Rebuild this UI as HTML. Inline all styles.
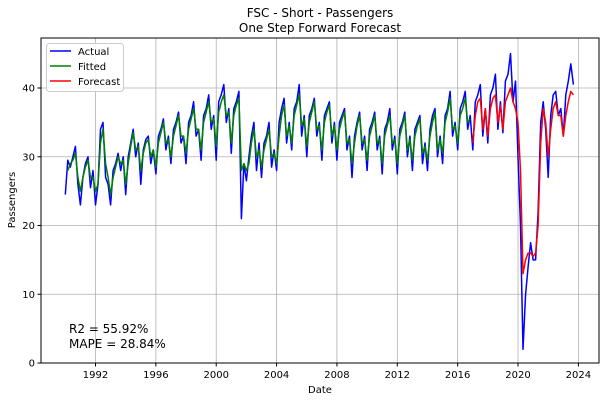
<!DOCTYPE html>
<html><head><meta charset="utf-8"><style>
body{margin:0;background:#fff;font-family:"DejaVu Sans","Liberation Sans",sans-serif}
svg text{font-family:"DejaVu Sans","Liberation Sans",sans-serif}
</style></head><body>
<svg id="chart" width="606" height="402" xmlns="http://www.w3.org/2000/svg">
<rect width="606" height="402" fill="#fff"/>
<g id="grid"></g>
<g id="series"></g>
<rect x="41" y="38" width="558" height="325" fill="none" stroke="#000" stroke-width="1"/>
<g id="ticks"></g>
<text x="320" y="17" text-anchor="middle" font-size="12">FSC - Short - Passengers</text>
<text x="320" y="32" text-anchor="middle" font-size="12">One Step Forward Forecast</text>
<text x="320" y="393" text-anchor="middle" font-size="10">Date</text>
<text x="15" y="200" text-anchor="middle" font-size="10" transform="rotate(-90 15 200)">Passengers</text>
<text x="69" y="333" font-size="12">R2 = 55.92%</text>
<text x="69" y="348" font-size="12">MAPE = 28.84%</text>
<g>
<rect x="46.5" y="43.5" width="77" height="48" rx="3" fill="#fff" fill-opacity="0.85" stroke="#ccc"/>
<line x1="50" y1="51" x2="71" y2="51" stroke="#0000ff" stroke-width="1.5"/>
<text x="78" y="55" font-size="10">Actual</text>
<line x1="50" y1="66" x2="71" y2="66" stroke="#008000" stroke-width="1.5"/>
<text x="78" y="70" font-size="10">Fitted</text>
<line x1="50" y1="81" x2="71" y2="81" stroke="#ff0000" stroke-width="1.5"/>
<text x="78" y="85" font-size="10">Forecast</text>
</g>
</svg>
<script>
const xTicks=[1992,1996,2000,2004,2008,2012,2016,2020,2024];
const yTicks=[0,10,20,30,40];
const actualStart=1990.0;
const actualValues=[
24.5,29.5,28.5,30,31.5,26,
23,27,29,30,25.5,28,
23,26,34,35,27,26,
23,28,29,30.5,28,30,
24.5,30,32,34,30,32,
26,31,32.5,33,29,31,
27.5,33,34,35.5,31,33,
29,34,35,36.5,32,33,
29,35,36,38,33,34,
29.5,36,37,39,34,36,
29.5,38,39,40.5,35,37,
30.5,37,38,39.5,21,29,
26.5,30,33,35,28,32,
27,32,33,35,28.5,31,
28,35,37,38.5,32,35,
31,37,38,40.5,33,36,
30,36,37,38.5,33,35,
29.5,36,37,38,32,35,
29.5,35,36,37,31,33,
27,33,35,36.5,31,33,
28,34,35,36.5,31,33,
27.5,34,35,37,31,33,
27.5,34,35,36.5,30,33,
28,34,35,36,29,32,
28,34,36,37,30,33,
29,36,37,39.5,33,35,
31,37,38,39.5,34,36,
31,38,39,40.5,33,37,
32,39,40,42,34,38,
33.5,41,42,45,38,41,
30,20,2,10,14,17.5,
15,15,22,35,38,34,
27,36,39,39.5,36,37,
33,39,41,43.5,40.5];
const fittedStart=1990+2/12;
const fittedValues=[
28,29,29.5,30.5,27,
25,27,28.5,29.5,27,27,
25,26,32,34,29,27,
24.5,27,28.5,30,29,29.5,
26,29,31.5,33.5,31,31.5,
28,30.5,32,32.5,30,31,
28.5,32,33.5,35,32,32.5,
30,33,34.5,36,33,33,
30.5,34,35.5,37,34,34,
31,35,36.5,38,35,35.5,
31.5,36.5,38,39,36,36.5,
32,36,37.5,38.5,28,29,
28,29,32,34,30,31,
28.5,31,32.5,34,30,30.5,
29,33,36,37.5,33,34.5,
32,36,37.5,39,34.5,35.5,
31.5,35,36.5,38,34,34.5,
31,35,36.5,37.5,33,34.5,
31,34,35.5,36.5,32,32.5,
29,32,34.5,36,32,32.5,
29.5,33,34.5,36,32,32.5,
29,33,34.5,36,32,32.5,
29,33,34.5,36,31,32.5,
29.5,33,34.5,35.5,30.5,31.5,
29.5,33,35,36.5,31,32.5,
30.5,35,36.5,38.5,34,34.5,
32,36,37,38.5,35,35.5];
const forecastStart=2017.0;
const forecastValues=[
32,36,38,38.5,34,37,
33,37,38.5,39,35,37.5,
34,38,39,40,38,37,
35,28,13,15,16,16,
15.5,16,20,32,37,35,
30,34,37,38,36,36,
33,36,38,39.5,39];
const step=2/12;
const X=y=>95.5+(y-1992)*15.09;
const Y=v=>363-v*6.875;
const NS="http://www.w3.org/2000/svg";
const grid=document.getElementById('grid'),ticks=document.getElementById('ticks'),ser=document.getElementById('series');
function mk(tag,attrs,parent){const e=document.createElementNS(NS,tag);for(const k in attrs)e.setAttribute(k,attrs[k]);parent.appendChild(e);return e;}
xTicks.forEach(t=>{
 const g=mk('line',{x1:X(t),x2:X(t),y1:38,y2:363,stroke:'#b0b0b0','stroke-width':0.8},grid);
 
 
 mk('line',{x1:X(t),x2:X(t),y1:363,y2:366.5,stroke:'#000'},ticks);
 const tx=mk('text',{x:X(t),y:378,'text-anchor':'middle','font-size':10},ticks);
 tx.textContent=t;
 
 
});
yTicks.forEach(t=>{
 const g=mk('line',{x1:41,x2:599,y1:Y(t),y2:Y(t),stroke:'#b0b0b0','stroke-width':0.8},grid);
 
 
 mk('line',{x1:37.5,x2:41,y1:Y(t),y2:Y(t),stroke:'#000'},ticks);
 const tx=mk('text',{x:35,y:Y(t)+3.5,'text-anchor':'end','font-size':10},ticks);
 tx.textContent=t;
 
 
});
function line(vals,start,color,name){
 const pts=vals.map((v,i)=>X(start+i*step).toFixed(1)+','+Y(v).toFixed(1)).join(' ');
 const p=mk('polyline',{points:pts,fill:'none',stroke:color,'stroke-width':1.5,'stroke-linejoin':'round'},ser);
 
 
}
line(actualValues,actualStart,'#0000ff','actual-line');
line(fittedValues,fittedStart,'#008000','fitted-line');
line(forecastValues,forecastStart,'#ff0000','forecast-line');
</script>
</body></html>
